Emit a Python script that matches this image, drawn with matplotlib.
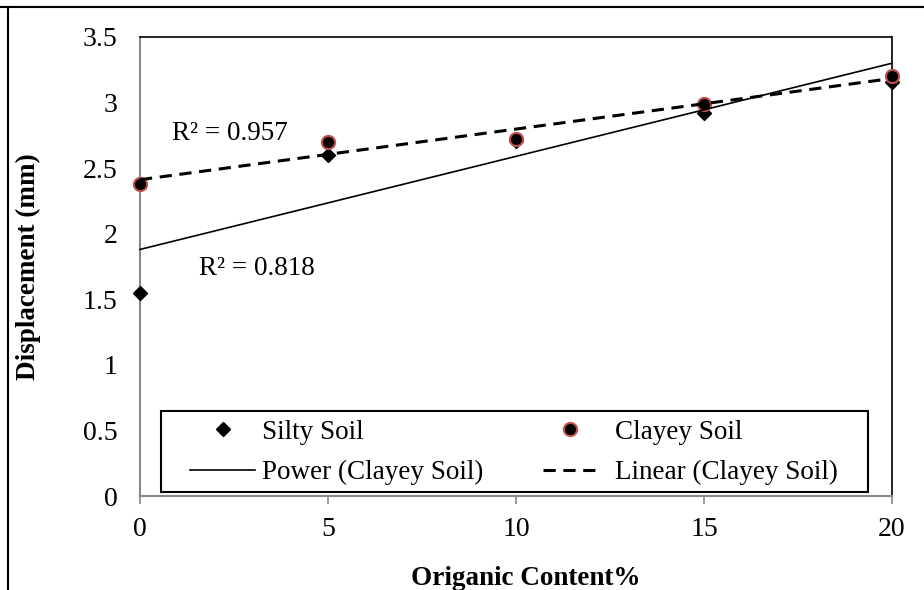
import numpy as np
import matplotlib
matplotlib.use('Agg')
import matplotlib.pyplot as plt
from matplotlib.lines import Line2D
from matplotlib.patches import Rectangle

plt.rcParams['font.family'] = ['Liberation Serif', 'DejaVu Serif']

organic = [0, 5, 10, 15, 20]
silty = [1.55, 2.60, 2.71, 2.92, 3.16]
clayey = [2.38, 2.70, 2.72, 2.99, 3.20]

# power trendline (end points)
power_x = [0, 20]
power_y = [1.88, 3.30]

r2_linear = 'R² = 0.957'
r2_power = 'R² = 0.818'

# linear trendline of clayey soil
coef = np.polyfit(organic, clayey, 1)
lin_x = np.array([0, 20])
lin_y = np.polyval(coef, lin_x)

fig = plt.figure(figsize=(9.24, 5.90), dpi=100)
ax = fig.add_axes([140/924, 1 - 496/590, 752/924, 459/590])

h_silty, = ax.plot(organic, silty, linestyle='none', marker='D', color='black',
                   markersize=7.5, label='Silty Soil', zorder=3, clip_on=False)
h_clay, = ax.plot(organic, clayey, linestyle='none', marker='o', color='black',
                  markeredgecolor='#c0504d', markeredgewidth=1.5, markersize=9.5,
                  label='Clayey Soil', zorder=4, clip_on=False)
h_pow, = ax.plot(power_x, power_y, color='black', linewidth=1.2,
                 label='Power (Clayey Soil)', zorder=5, clip_on=False)
h_lin, = ax.plot(lin_x, lin_y, color='black', linewidth=2.2, linestyle=(0, (4, 2.5)),
                 label='Linear (Clayey Soil)', zorder=5, clip_on=False)

ax.text(0.85, 2.715, r2_linear, fontsize=19.5, ha='left', va='baseline')
ax.text(1.57, 1.686, r2_power, fontsize=19.5, ha='left', va='baseline')

ax.set_xlim(0, 20)
ax.set_ylim(0, 3.5)
ax.set_xticks([0, 5, 10, 15, 20])
ax.set_yticks(np.arange(0, 3.51, 0.5))
ax.set_yticklabels(['0', '0.5', '1', '1.5', '2', '2.5', '3', '3.5'])
ax.tick_params(axis='x', labelsize=20, length=6, width=1.2, color='#888888', pad=9)
ax.tick_params(axis='y', labelsize=20, length=0, pad=16)

ax.spines['left'].set_color('#888888')
ax.spines['bottom'].set_color('#888888')
ax.spines['left'].set_linewidth(1.5)
ax.spines['bottom'].set_linewidth(1.5)
ax.spines['top'].set_linewidth(1.2)
ax.spines['right'].set_linewidth(1.2)

ax.set_xlabel('Origanic Content%', fontsize=19.5, fontweight='bold')
ax.set_ylabel('Displacement (mm)', fontsize=19.5, fontweight='bold')
ax.xaxis.set_label_coords(0.513, -0.1525)
ax.yaxis.set_label_coords(-0.132, 0.5)

# legend frame + two columns
ax.add_patch(Rectangle((0.0279, 0.0087), 0.9402, 0.1763, transform=ax.transAxes,
                       facecolor='white', edgecolor='black', linewidth=1.5,
                       zorder=6, clip_on=False))
leg1 = ax.legend([h_silty, h_pow], ['Silty Soil', 'Power (Clayey Soil)'],
                 loc='center left', bbox_to_anchor=(0.0665, 0.0948), frameon=False,
                 fontsize=19.5, handlelength=2.4, handletextpad=0.26,
                 borderpad=0, borderaxespad=0, labelspacing=0.56)
leg1.set_zorder(7)
ax.add_artist(leg1)
leg2 = ax.legend([h_clay, h_lin], ['Clayey Soil', 'Linear (Clayey Soil)'],
                 loc='center left', bbox_to_anchor=(0.536, 0.0948), frameon=False,
                 fontsize=19.5, handlelength=2.0, handletextpad=0.65,
                 borderpad=0, borderaxespad=0, labelspacing=0.56)
leg2.set_zorder(7)

# outer border of the picture
fig.add_artist(Line2D([0, 1], [1 - 7/590, 1 - 7/590], color='black', linewidth=1.5))
fig.add_artist(Line2D([8/924, 8/924], [0, 1 - 7/590], color='black', linewidth=1.5))

fig.savefig('out.png', dpi=100)
